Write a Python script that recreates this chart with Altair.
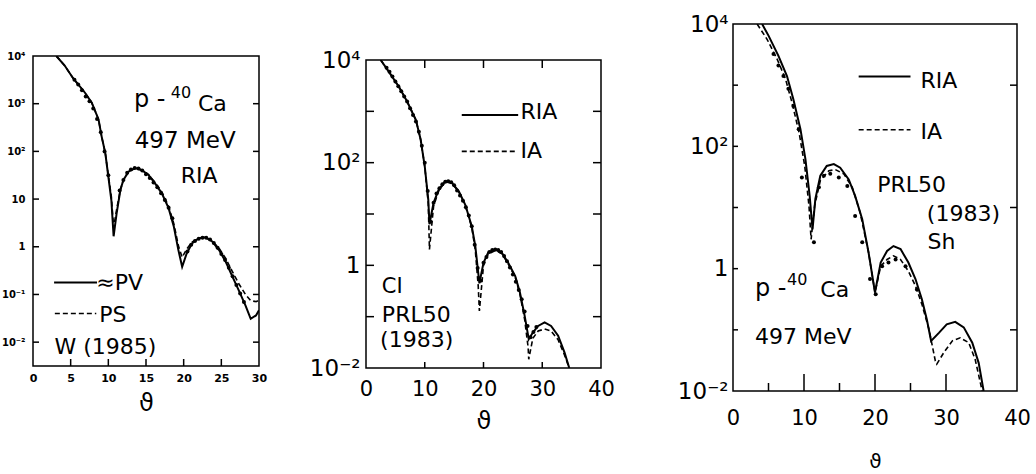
import altair as alt
import pandas as pd

FONT = "DejaVu Sans"

# ---------------- Panel 1: W (1985), ~PV vs PS ----------------
p1_theta = [3.1, 4.2, 5.3, 6.9, 7.8, 8.7, 9.1, 9.6, 10.0, 10.4, 10.7, 11.1, 11.6, 12.0, 12.7, 13.6,
            14.4, 15.3, 16.2, 17.1, 18.0, 18.7, 19.3, 19.8, 20.4, 21.1, 22.0, 22.9, 23.8, 24.7,
            25.6, 26.4, 27.3, 28.2, 28.9, 29.6, 30.0]
p1_pv = [4.0, 3.80, 3.54, 3.23, 3.02, 2.67, 2.32, 1.96, 1.47, 0.98, 0.22, 0.70, 1.19, 1.40, 1.58, 1.65,
         1.61, 1.51, 1.33, 1.12, 0.81, 0.42, -0.07, -0.42, -0.14, 0.07, 0.18, 0.20, 0.11, -0.07,
         -0.32, -0.60, -0.91, -1.23, -1.51, -1.44, -1.33]
p1_ps = [4.0, 3.80, 3.54, 3.23, 3.02, 2.67, 2.32, 1.96, 1.50, 1.05, 0.40, 0.78, 1.20, 1.40, 1.58, 1.65,
         1.61, 1.52, 1.35, 1.15, 0.85, 0.48, 0.02, -0.22, -0.05, 0.10, 0.18, 0.19, 0.12, -0.03,
         -0.25, -0.50, -0.77, -1.00, -1.13, -1.15, -1.12]
p1_dot_theta = [5.5, 6, 6.5, 7, 7.5, 8, 8.5, 9, 9.5, 10, 11.5, 12, 12.5, 13, 13.5, 14, 14.5, 15, 15.5,
                16, 16.5, 17, 17.5, 18, 18.5, 20.5, 21, 21.5, 22, 22.5, 23, 23.5, 24, 24.5, 25, 25.5,
                26, 26.5, 27, 27.5, 28]
p1_dot_val = [3.50, 3.40, 3.28, 3.15, 3.05, 2.90, 2.68, 2.40, 2.00, 1.50, 1.18, 1.40, 1.55, 1.62, 1.65,
              1.64, 1.60, 1.52, 1.44, 1.35, 1.25, 1.12, 0.98, 0.82, 0.60, -0.10, 0.04, 0.12, 0.17, 0.19,
              0.19, 0.15, 0.08, -0.02, -0.15, -0.28, -0.44, -0.62, -0.80, -0.98, -1.16]

# ---------------- Panel 2: CI PRL50 (1983), RIA vs IA ----------------
p2_theta = [2.5, 3.9, 5.6, 7.0, 8.5, 9.3, 10.0, 10.6, 10.8, 11.5, 12.4, 13.5, 14.6, 15.8, 16.9, 18.0,
            18.6, 19.1, 19.3, 20.0, 20.8, 22.0, 23.1, 24.2, 25.4, 26.2, 27.0, 27.6, 27.7, 28.4, 29.3,
            30.4, 31.5, 32.7, 33.8, 34.6]
p2_ria = [4.0, 3.77, 3.48, 3.19, 2.83, 2.45, 1.93, 1.28, 0.80, 1.22, 1.48, 1.64, 1.61, 1.44, 1.18, 0.76,
          0.38, -0.14, -0.35, 0.05, 0.25, 0.31, 0.25, 0.05, -0.21, -0.53, -0.98, -1.37, -1.44, -1.31,
          -1.18, -1.11, -1.18, -1.37, -1.70, -2.0]
p2_ia = [4.0, 3.77, 3.48, 3.19, 2.83, 2.45, 1.93, 1.20, 0.31, 1.15, 1.46, 1.63, 1.60, 1.43, 1.17, 0.74,
         0.30, -0.40, -0.89, 0.0, 0.22, 0.29, 0.23, 0.03, -0.23, -0.56, -1.05, -1.60, -1.83, -1.42,
         -1.28, -1.24, -1.28, -1.45, -1.75, -2.0]
p2_dot_theta = [3.5, 4, 4.5, 5, 5.5, 6, 6.5, 7, 7.5, 8, 8.5, 9, 9.5, 10, 10.5, 11, 11.5, 12, 12.5, 13,
                13.5, 14, 14.5, 15, 15.5, 16, 16.5, 17, 17.5, 18, 18.5, 19, 19.5, 20, 20.5, 21, 21.5,
                22, 22.5, 23, 23.5, 24, 24.5, 25, 25.5, 26, 26.5, 27, 27.5, 28, 28.5, 29]
p2_dot_val = [3.85, 3.77, 3.68, 3.58, 3.49, 3.39, 3.29, 3.19, 3.06, 2.93, 2.80, 2.60, 2.33, 2.00, 1.45,
              0.85, 1.22, 1.40, 1.50, 1.58, 1.63, 1.64, 1.62, 1.56, 1.46, 1.36, 1.26, 1.13, 0.97, 0.76,
              0.40, -0.05, -0.30, 0.05, 0.16, 0.26, 0.30, 0.31, 0.30, 0.26, 0.18, 0.08, -0.04, -0.18,
              -0.32, -0.48, -0.66, -0.90, -1.18, -1.40, -1.30, -1.20]

# ---------------- Panel 3: Sh PRL50 (1983), RIA vs IA ----------------
p3_ria_theta = [4.1, 5.0, 6.4, 7.6, 8.5, 9.5, 10.2, 10.8, 11.2, 11.6, 12.3, 13.2, 14.2, 15.1, 16.3, 17.2,
                18.2, 19.1, 20.0, 20.8, 21.7, 22.6, 23.6, 24.7, 25.7, 26.6, 27.3, 27.9, 29.0, 30.1,
                31.3, 32.5, 33.7, 34.6, 35.3]
p3_ria = [4.0, 3.81, 3.48, 3.15, 2.77, 2.28, 1.79, 1.19, 0.64, 1.14, 1.52, 1.68, 1.71, 1.65, 1.46, 1.19,
          0.81, 0.26, -0.39, 0.10, 0.29, 0.37, 0.32, 0.10, -0.17, -0.50, -0.83, -1.18, -1.05, -0.91,
          -0.87, -0.96, -1.21, -1.54, -2.0]
p3_ia_theta = [3.4, 4.8, 6.2, 7.4, 8.3, 9.3, 10.1, 10.7, 11.0, 11.5, 12.3, 13.5, 14.4, 15.6, 16.8, 17.9,
               19.1, 20.0, 20.8, 21.7, 22.6, 23.6, 24.7, 25.7, 26.6, 27.6, 28.5, 28.7, 29.7, 30.9,
               32.0, 33.2, 34.1, 35.1]
p3_ia = [4.0, 3.75, 3.43, 3.10, 2.72, 2.23, 1.68, 1.03, 0.48, 1.03, 1.44, 1.60, 1.62, 1.55, 1.33, 0.92,
         0.26, -0.39, 0.04, 0.15, 0.21, 0.15, -0.04, -0.28, -0.58, -0.99, -1.51, -1.56, -1.37, -1.18,
         -1.13, -1.21, -1.48, -2.0]
p3_dot_theta = [5.7, 6.4, 7.1, 7.8, 8.5, 9.25, 9.7, 11.4, 12.1, 12.8, 13.7, 14.9, 16.1, 17.2, 18.2,
                19.3, 20.1, 21.0, 21.9, 22.9, 24.3, 25.9]
p3_dot_val = [3.51, 3.32, 3.15, 2.94, 2.66, 2.28, 1.49, 0.43, 1.33, 1.52, 1.55, 1.49, 1.35, 0.86, 0.43,
              -0.17, -0.42, 0.04, 0.10, 0.15, 0.04, -0.34]

# y tick labels (exponent -> label)
exp_labels = {-2: "10⁻²", -1: "10⁻¹", 0: "1", 1: "10", 2: "10²", 3: "10³", 4: "10⁴"}


def label_expr(values):
    expr = "''"
    for v in values:
        expr = f"datum.value == {v} ? '{exp_labels[v]}' : ({expr})"
    return expr


def line_df(theta, vals):
    return pd.DataFrame({"theta": theta, "lg": vals})


def panel(width, height, xdom, ydom, solids, dashes, dots, texts, legend,
          xlab_vals, ylab_vals, yticks_left, yticks_right, xticks_bottom, xticks_top,
          xlab_size, ylab_size, lab_weight, lab_pad_x, lab_pad_y, title_size, title_pad,
          tick_len=6, left_tick_len=None):
    if left_tick_len is None:
        left_tick_len = tick_len
    xs = alt.Scale(domain=xdom, nice=False, zero=False)
    ys = alt.Scale(domain=ydom, nice=False, zero=False)
    xaxis = alt.Axis(values=xlab_vals, ticks=False, domain=False, grid=False, labelFont=FONT,
                     labelFontSize=xlab_size, labelFontWeight=lab_weight, labelPadding=lab_pad_x,
                     labelColor="black", title="ϑ", titleFont=FONT, titleFontSize=title_size,
                     titleFontWeight="normal", titlePadding=title_pad, titleColor="black",
                     labelFlush=False, labelOverlap=False)
    yaxis = alt.Axis(values=ylab_vals, labelExpr=label_expr(ylab_vals), ticks=False, domain=False,
                     grid=False, labelFont=FONT, labelFontSize=ylab_size, labelFontWeight=lab_weight,
                     labelPadding=lab_pad_y, labelColor="black", title=None, labelFlush=False,
                     labelOverlap=False)

    def X(field):
        return alt.X(field, type="quantitative", scale=xs, axis=xaxis)

    def Y(field):
        return alt.Y(field, type="quantitative", scale=ys, axis=yaxis)

    layers = []
    for df in solids:
        layers.append(alt.Chart(df).mark_line(color="black", strokeWidth=2, clip=True)
                      .encode(x=X("theta"), y=Y("lg"), order="theta:Q"))
    for df in dashes:
        layers.append(alt.Chart(df).mark_line(color="black", strokeWidth=1.6, strokeDash=[5, 3], clip=True)
                      .encode(x=X("theta"), y=Y("lg"), order="theta:Q"))
    if dots is not None:
        layers.append(alt.Chart(dots).mark_circle(color="black", size=16, opacity=1, clip=True)
                      .encode(x=X("theta"), y=Y("lg")))
    # legend line samples (data coordinates)
    for (x1, x2, yv, dashed) in legend:
        ldf = pd.DataFrame({"x1": [x1], "x2": [x2], "y": [yv]})
        kw = dict(color="black", strokeWidth=2)
        if dashed:
            kw = dict(color="black", strokeWidth=1.6, strokeDash=[5, 3])
        layers.append(alt.Chart(ldf).mark_rule(**kw)
                      .encode(x=X("x1"), x2="x2", y=Y("y")))
    # text annotations
    tdf = pd.DataFrame(texts, columns=["theta", "lg", "label", "fs"])
    for fs, sub in tdf.groupby("fs"):
        layers.append(alt.Chart(sub).mark_text(align="left", baseline="alphabetic", font=FONT,
                                               fontSize=float(fs), color="black")
                      .encode(x=X("theta"), y=Y("lg"), text="label:N"))
    # inward tick marks
    if yticks_left:
        layers.append(alt.Chart(pd.DataFrame({"t": yticks_left})).mark_rule(color="black", strokeWidth=1.5)
                      .encode(y=Y("t"), x=alt.value(0), x2=alt.value(left_tick_len)))
    if yticks_right:
        layers.append(alt.Chart(pd.DataFrame({"t": yticks_right})).mark_rule(color="black", strokeWidth=1.5)
                      .encode(y=Y("t"), x=alt.value(width - tick_len), x2=alt.value(width)))
    for vals, ln in xticks_bottom:
        layers.append(alt.Chart(pd.DataFrame({"t": vals})).mark_rule(color="black", strokeWidth=1.5)
                      .encode(x=X("t"), y=alt.value(height - ln), y2=alt.value(height)))
    if xticks_top:
        layers.append(alt.Chart(pd.DataFrame({"t": xticks_top})).mark_rule(color="black", strokeWidth=1.5)
                      .encode(x=X("t"), y=alt.value(0), y2=alt.value(tick_len)))
    return alt.layer(*layers).properties(width=width, height=height)


def spacer(h):
    return (alt.Chart(pd.DataFrame({"s": [0]})).mark_point(opacity=0)
            .encode(x=alt.value(0), y=alt.value(0))
            .properties(width=10, height=h, view=alt.ViewBackground(strokeOpacity=0)))


# ---- annotations (theta, log10 sigma, text, font size) ----
p1_texts = [
    (13.4, 2.94, "p -", 24), (18.3, 3.12, "40", 16), (21.9, 2.84, "Ca", 22),
    (13.5, 2.08, "497 MeV", 23), (19.6, 1.34, "RIA", 22),
    (8.4, -0.91, "≈PV", 22), (8.8, -1.57, "PS", 22), (2.85, -2.24, "W (1985)", 22),
]
p1_legend = [(2.8, 8.5, -0.75, False), (2.9, 8.4, -1.40, True)]

p2_texts = [
    (26.3, 2.85, "RIA", 22), (26.3, 2.09, "IA", 22),
    (2.7, -0.53, "CI", 21), (2.7, -1.11, "PRL50", 22), (2.4, -1.60, "(1983)", 22),
]
p2_legend = [(16.3, 25.9, 2.93, False), (16.3, 25.6, 2.22, True)]

p3_texts = [
    (26.4, 2.96, "RIA", 22), (26.4, 2.12, "IA", 22),
    (20.3, 1.25, "PRL50", 22), (27.3, 0.78, "(1983)", 22), (27.4, 0.32, "Sh", 22),
    (3.1, -0.45, "p -", 24), (7.6, -0.27, "40", 16), (12.3, -0.47, "Ca", 22),
    (3.1, -1.23, "497 MeV", 22),
]
p3_legend = [(17.7, 25.0, 3.14, False), (17.7, 25.0, 2.27, True)]

c1 = panel(226, 310, [0, 30], [-2.5, 4],
           [line_df(p1_theta, p1_pv)], [line_df(p1_theta, p1_ps)],
           line_df(p1_dot_theta, p1_dot_val), p1_texts, p1_legend,
           [0, 5, 10, 15, 20, 25, 30], [-2, -1, 0, 1, 2, 3, 4],
           [-2, -1, 0, 1, 2, 3], [-2, -1, 0, 1, 2, 3], [([5, 10, 15, 20, 25], 7)], None,
           11, 10, "bold", 6, 8, 24, 8)

c2 = panel(235, 308, [0, 40], [-2, 4],
           [line_df(p2_theta, p2_ria)], [line_df(p2_theta, p2_ia)],
           line_df(p2_dot_theta, p2_dot_val), p2_texts, p2_legend,
           [0, 10, 20, 30, 40], [-2, 0, 2, 4],
           [-1, 0, 1, 2, 3], [-1, 0, 1, 2, 3], [([10, 20, 30], 6)], [10, 20, 30],
           21, 23, "normal", 10, 6, 24, 10, tick_len=8)

c3 = panel(284, 367, [0, 40], [-2, 4],
           [line_df(p3_ria_theta, p3_ria)], [line_df(p3_ia_theta, p3_ia)],
           line_df(p3_dot_theta, p3_dot_val), p3_texts, p3_legend,
           [0, 10, 20, 30, 40], [-2, 0, 2, 4],
           [-1, 0, 1, 2, 3], [-1, 1, 3], [([10, 20, 30], 17), ([5, 15, 25], 8)], None,
           21, 23, "normal", 16, 5, 20, 23, tick_len=7, left_tick_len=5)

col1 = alt.vconcat(spacer(26), c1, spacing=0)
col2 = alt.vconcat(spacer(24), c2, spacing=0)

chart = (alt.hconcat(alt.hconcat(col1, col2, spacing=40), c3, spacing=60)
         .properties(padding={"left": 0, "top": 12, "right": 0, "bottom": 0})
         .configure_view(stroke="black", strokeWidth=1.5))

chart.save("out.html", embed_options={"renderer": "svg", "actions": False})
